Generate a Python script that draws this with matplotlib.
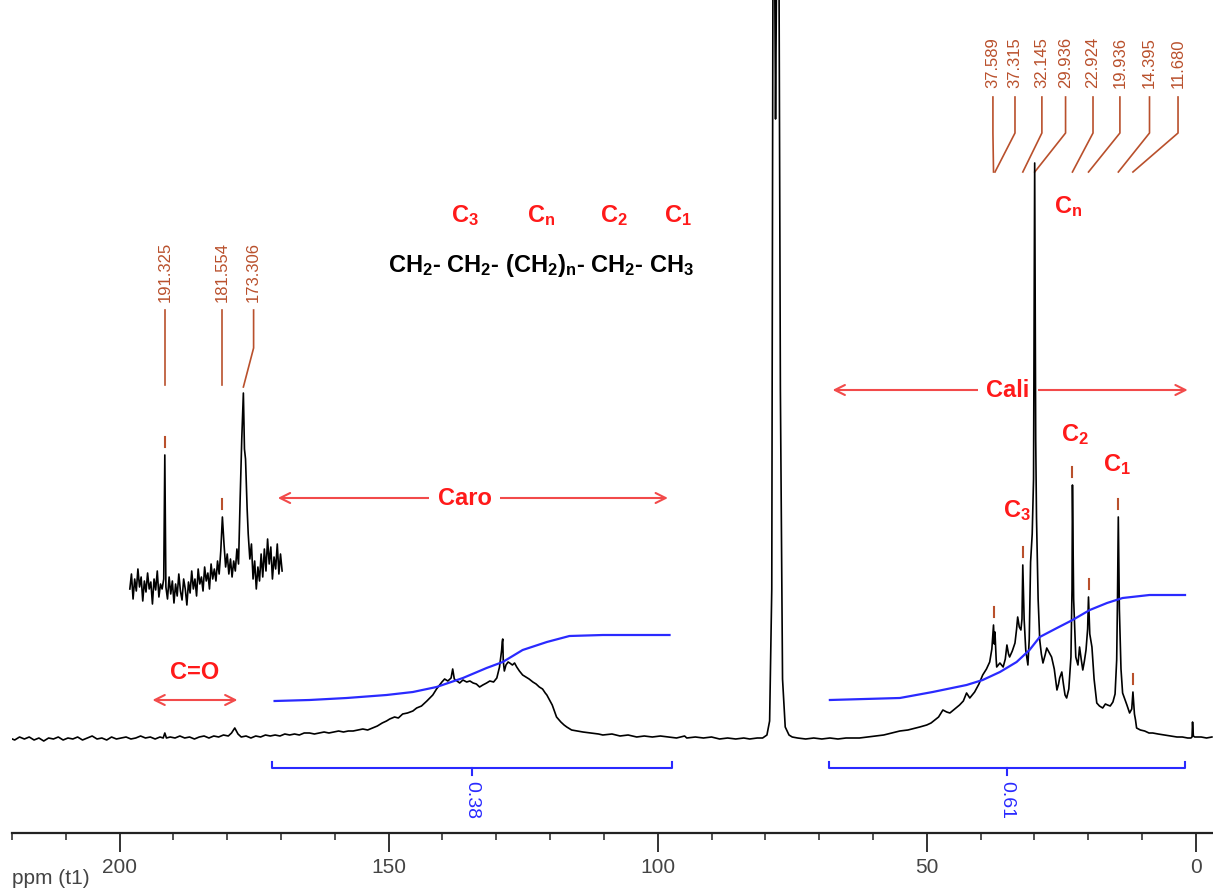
import matplotlib
matplotlib.use("Agg")
import matplotlib.pyplot as plt
from matplotlib.ticker import MultipleLocator

plt.rcParams['font.family'] = ['Liberation Sans', 'DejaVu Sans']
plt.rcParams['mathtext.fontset'] = 'custom'
plt.rcParams['mathtext.rm'] = 'Liberation Sans:bold'
plt.rcParams['mathtext.bf'] = 'Liberation Sans:bold'
plt.rcParams['mathtext.it'] = 'Liberation Sans:bold'
plt.rcParams['mathtext.default'] = 'bf'

# 13C NMR trace (ppm, intensity above baseline)
spec_ppm = [220.4, 219.5, 218.6, 217.7, 216.8, 215.9, 215.0, 214.1, 213.2, 212.3, 211.4, 210.5, 209.6,
            208.7, 207.8, 206.9, 206.0, 205.1, 204.2, 203.3, 202.4, 201.5, 200.6, 199.7, 198.8, 197.9,
            197.0, 196.1, 195.2, 194.3, 193.4, 192.5, 191.9, 191.6, 191.3, 190.6, 189.7, 188.8, 187.9,
            187.0, 186.1, 185.2, 184.3, 183.4, 182.5, 181.6, 180.7, 179.8, 179.2, 178.6, 178.0, 177.4,
            176.5, 175.6, 174.7, 173.8, 172.9, 172.0, 171.1, 170.2, 169.3, 168.4, 167.5, 166.6, 165.7,
            164.7, 163.8, 162.9, 162.0, 161.1, 160.2, 159.3, 158.4, 157.5, 156.6, 155.7, 154.8, 153.9,
            153.0, 152.1, 151.2, 150.4, 149.8, 148.9, 148.2, 147.4, 146.5, 145.5, 144.8, 143.9, 142.9,
            141.8, 141.1, 140.1, 139.6, 139.0, 138.4, 138.1, 137.8, 137.3, 136.8, 136.2, 135.5, 134.9,
            134.3, 133.7, 133.1, 132.5, 131.8, 131.2, 130.5, 129.9, 129.4, 129.0, 128.9, 128.8, 128.7,
            128.5, 128.2, 127.8, 127.5, 127.0, 126.6, 126.2, 125.7, 125.1, 124.5, 123.9, 123.2, 122.6,
            122.0, 121.4, 120.9, 120.6, 120.1, 119.6, 119.2, 118.8, 118.0, 117.4, 116.9, 116.0, 115.0,
            113.9, 112.5, 111.0, 110.2, 108.5, 107.0, 105.5, 103.9, 102.5, 101.0, 99.5, 98.0, 96.5,
            95.0, 94.6, 93.0, 91.5, 90.0, 88.5, 87.0, 85.5, 84.0, 82.9, 81.5, 80.5, 79.7, 79.2, 78.8,
            78.5, 78.1, 77.6, 77.2, 76.8, 76.3, 75.6, 75.0, 74.0, 72.5, 71.0, 69.5, 68.0, 66.5, 65.0,
            63.5, 62.5, 61.0, 59.5, 58.0, 56.5, 55.0, 53.5, 52.0, 51.3, 50.0, 49.2, 48.5, 47.8, 47.0,
            46.3, 45.7, 44.8, 43.9, 43.2, 42.6, 42.0, 41.1, 40.3, 39.6, 38.9, 38.3, 37.9, 37.59, 37.45,
            37.32, 37.1, 37.0, 36.4, 35.8, 35.4, 35.1, 34.8, 34.6, 34.1, 33.6, 33.3, 33.1, 32.8, 32.5,
            32.3, 32.15, 31.9, 31.6, 31.2, 30.95, 30.7, 30.4, 30.15, 29.94, 29.75, 29.6, 29.3, 29.0,
            28.7, 28.4, 28.0, 27.7, 27.2, 26.8, 26.3, 25.8, 25.5, 25.3, 24.9, 24.6, 24.3, 24.0, 23.6,
            23.2, 23.0, 22.92, 22.7, 22.3, 21.9, 21.6, 21.3, 21.0, 20.7, 20.4, 20.1, 19.94, 19.7, 19.3,
            18.9, 18.4, 17.9, 17.3, 16.8, 16.4, 15.9, 15.4, 15.0, 14.7, 14.55, 14.4, 14.2, 13.9, 13.6,
            13.2, 12.8, 12.3, 11.9, 11.68, 11.4, 11.2, 11.0, 10.3, 9.5, 8.7, 8.0, 7.0, 5.8, 4.7, 3.5,
            2.5, 1.5, 0.9, 0.7, 0.6, 0.45, 0.2, -1.0, -2.0, -3.0]
spec_int = [1, -1, 2, 0, 2, -1, 1, -2, 1, 0, 2, -1, 1,
            0, 2, -1, 1, 3, 0, 1, -1, 2, 0, 1, 2, 0,
            1, 3, 1, 2, 0, 2, 1, 6, 1, 2, 1, 3, 1,
            2, 0, 2, 3, 1, 3, 2, 4, 3, 6, 11, 5, 2,
            3, 1, 3, 2, 4, 3, 4, 3, 5, 4, 5, 4, 6,
            6, 5, 6, 7, 6, 7, 8, 7, 8, 8, 9, 10, 9,
            11, 13, 16, 18, 20, 22, 21, 25, 26, 28, 31, 33, 38,
            44, 50, 57, 60, 58, 61, 70, 60, 58, 56, 59, 57, 58,
            56, 55, 52, 54, 56, 58, 57, 61, 72, 89, 97, 100, 78,
            68, 74, 77, 76, 74, 76, 72, 68, 64, 62, 60, 57, 55,
            52, 50, 46, 44, 39, 34, 28, 22, 17, 14, 12, 9, 8,
            7, 6, 5, 4, 5, 3, 4, 2, 3, 2, 3, 2, 1,
            3, 1, 2, 1, 2, 0, 1, 0, 1, 0, 1, 1, 4, 18, 150,
            1000, 620, 1000, 350, 60, 12, 4, 2, 1, 0, 1, 0, 1, 0, 1,
            1, 1, 2, 3, 4, 6, 8, 9, 11, 12, 14, 16, 19, 22, 29,
            27, 26, 30, 34, 38, 46, 41, 47, 55, 64, 70, 77, 90, 114, 95,
            107, 80, 72, 76, 72, 80, 94, 85, 82, 88, 96, 110, 122, 112, 109,
            120, 174, 120, 89, 74, 100, 177, 205, 260, 576, 300, 221, 140, 99,
            85, 76, 84, 91, 86, 82, 70, 49, 55, 61, 67, 55, 44, 41, 50,
            82, 150, 254, 140, 82, 74, 92, 80, 69, 78, 89, 110, 142, 105, 92,
            60, 36, 33, 31, 35, 34, 33, 37, 45, 79, 140, 222, 130, 70, 46,
            40, 34, 26, 30, 47, 25, 19, 11, 9, 8, 6, 6, 5, 4, 3, 2,
            2, 1, 1, 2, 17, 3, 2, 2, 1, 2]

# vertically expanded carbonyl region
inset_ppm = [198.1, 197.8, 197.5, 197.2, 196.9, 196.6, 196.3, 196.0, 195.7, 195.4, 195.1, 194.8, 194.5,
             194.2, 193.9, 193.6, 193.3, 193.0, 192.7, 192.4, 192.1, 191.8, 191.6, 191.4, 191.1, 190.8,
             190.5, 190.2, 189.9, 189.6, 189.3, 189.0, 188.7, 188.4, 188.1, 187.8, 187.5, 187.2, 186.9,
             186.6, 186.3, 186.0, 185.7, 185.4, 185.1, 184.8, 184.5, 184.2, 183.9, 183.6, 183.3, 183.0,
             182.7, 182.4, 182.1, 181.8, 181.5, 181.2, 180.9, 180.6, 180.3, 180.0, 179.7, 179.4, 179.1,
             178.8, 178.5, 178.2, 177.9, 177.6, 177.3, 177.0, 176.8, 176.6, 176.3, 176.1, 175.8, 175.5,
             175.2, 174.9, 174.6, 174.3, 174.0, 173.7, 173.4, 173.1, 172.8, 172.5, 172.2, 171.9, 171.6,
             171.3, 171.0, 170.7, 170.4, 170.1, 169.8]
inset_int = [150, 165, 140, 160, 148, 170, 152, 162, 138, 158, 147, 166, 150,
             157, 135, 160, 149, 168, 142, 155, 150, 160, 284, 152, 140, 162,
             145, 158, 136, 155, 143, 165, 148, 139, 160, 150, 134, 157, 146,
             168, 150, 160, 143, 170, 155, 162, 148, 172, 158, 166, 150, 175,
             160, 170, 158, 178, 165, 188, 222, 195, 172, 185, 165, 180, 162,
             178, 168, 190, 175, 240, 300, 346, 290, 280, 230, 205, 180, 195,
             160, 178, 150, 172, 158, 185, 162, 190, 168, 200, 175, 192, 160,
             182, 170, 195, 165, 185, 168]

# integral curves
aro_int_ppm = [171.2, 164.7, 157.8, 150.4, 145.5, 141.1, 136.2, 131.8, 128.8, 125.1, 120.6, 116.4, 110.2, 97.8]
aro_int_val = [38, 39, 41, 44, 47, 52, 61, 71, 77, 89, 97, 103, 104, 104]
ali_int_ppm = [68.0, 55.0, 48.9, 42.6, 39.6, 36.4, 33.3, 30.9, 29.0, 25.8, 22.9, 19.7, 16.5, 13.6, 8.6, 2.0]
ali_int_val = [39, 41, 47, 54, 59, 67, 77, 89, 102, 111, 119, 129, 136, 141, 144, 144]
integral_ranges = [(171.6, 97.4), (68.2, 2.0)]
integral_labels = ['0.38', '0.61']

# peak picking
peak_labels = ['37.589', '37.315', '32.145', '29.936', '22.924', '19.936', '14.395', '11.680']
peak_ppm = [37.589, 37.315, 32.145, 29.936, 22.924, 19.936, 14.395, 11.680]
peak_label_x = [37.7, 33.6, 28.6, 24.2, 19.1, 14.1, 8.6, 3.3]
tick_peaks = [(37.589, 114), (32.145, 174), (22.924, 254), (19.936, 142), (14.395, 222), (11.680, 47),
              (191.6, 284), (180.9, 222)]
inset_labels = ['191.325', '181.554', '173.306']
inset_label_x = [191.6, 180.9, 175.1]
inset_peak_ppm = [191.6, 180.9, 177.0]

red = '#ff1a1a'
arrow_red = '#f24a4a'
orange = '#b9502c'
blue = '#2a2aff'

fig = plt.figure(figsize=(12.13, 8.88), dpi=100)
ax = fig.add_axes([12 / 1213, 55 / 888, 1 - 12 / 1213, 833 / 888])
ax.set_xlim(220, -3.2)
ax.set_ylim(-94, 739)

ax.plot(spec_ppm, spec_int, color='black', lw=1.2, zorder=4)
ax.plot(inset_ppm, inset_int, color='black', lw=1.2, zorder=4)
ax.plot(aro_int_ppm, aro_int_val, color=blue, lw=1.6, zorder=5)
ax.plot(ali_int_ppm, ali_int_val, color=blue, lw=1.6, zorder=5)

# integral brackets
for (a, b), lab in zip(integral_ranges, integral_labels):
    mid = (a + b) / 2
    ax.plot([a, a, b, b], [-23, -29, -29, -23], color=blue, lw=1.5)
    ax.plot([mid, mid], [-29, -36], color=blue, lw=1.5)
    ax.text(mid, -42, lab, color=blue, fontsize=14, rotation=270, ha='center', va='top')

# peak labels, top right
for lab, pk, lx in zip(peak_labels, peak_ppm, peak_label_x):
    ax.text(lx, 651, lab, color=orange, fontsize=12, rotation=90, ha='center', va='bottom')
    ax.plot([lx, lx, pk], [642, 606, 567], color=orange, lw=1.2)

for lab, lx, pk in zip(inset_labels, inset_label_x, inset_peak_ppm):
    ax.text(lx, 437, lab, color=orange, fontsize=12, rotation=90, ha='center', va='bottom')
    if lx == pk:
        ax.plot([lx, lx], [429, 354], color=orange, lw=1.2)
    else:
        ax.plot([lx, lx, pk], [429, 391, 352], color=orange, lw=1.2)

for pk, top in tick_peaks:
    ax.plot([pk, pk], [top + 8, top + 18], color=orange, lw=1.5)

# assignments
tfont = dict(color=red, fontsize=17, fontweight='bold', ha='center', va='center')
for txt, x in zip(['C$_3$', 'C$_n$', 'C$_2$', 'C$_1$'], [135.9, 121.6, 108.2, 96.3]):
    ax.text(x, 523, txt, **tfont)
ax.text(121.7, 474, 'CH$_2$- CH$_2$- (CH$_2$)$_n$- CH$_2$- CH$_3$', color='black', fontsize=17,
        fontweight='bold', ha='center', va='center')
ax.text(23.8, 532, 'C$_n$', **tfont)
ax.text(33.3, 228, 'C$_3$', zorder=3, **tfont)
ax.text(22.5, 304, 'C$_2$', **tfont)
ax.text(14.7, 274, 'C$_1$', **tfont)

arrow = dict(arrowstyle='<->', color=arrow_red, lw=1.5, shrinkA=0, shrinkB=0, mutation_scale=18)
ax.annotate('', xy=(1.5, 349), xytext=(67.5, 349), arrowprops=arrow, zorder=2)
ax.text(34.9, 349, 'Cali', zorder=3, bbox=dict(fc='white', ec='none', pad=6), **tfont)
ax.annotate('', xy=(98.1, 241), xytext=(170.6, 241), arrowprops=arrow, zorder=2)
ax.text(135.9, 241, 'Caro', zorder=3, bbox=dict(fc='white', ec='none', pad=6), **tfont)
ax.annotate('', xy=(178.1, 39), xytext=(193.9, 39), arrowprops=arrow, zorder=2)
ax.text(186.1, 67, 'C=O', **tfont)

# ppm axis
for s in ['top', 'left', 'right']:
    ax.spines[s].set_visible(False)
ax.spines['bottom'].set_color('#222222')
ax.spines['bottom'].set_linewidth(1.6)
ax.set_yticks([])
ax.xaxis.set_major_locator(MultipleLocator(50))
ax.xaxis.set_minor_locator(MultipleLocator(10))
ax.tick_params(axis='x', which='major', length=14, width=1.4, color='#333333', direction='out',
               labelsize=15, labelcolor='#444444', pad=4)
ax.tick_params(axis='x', which='minor', length=5, width=1.2, color='#333333', direction='out')
fig.text(12 / 1213, 1 - 878 / 888, 'ppm (t1)', fontsize=15, color='#444444', ha='left', va='center')

fig.savefig('out.png', dpi=100)
